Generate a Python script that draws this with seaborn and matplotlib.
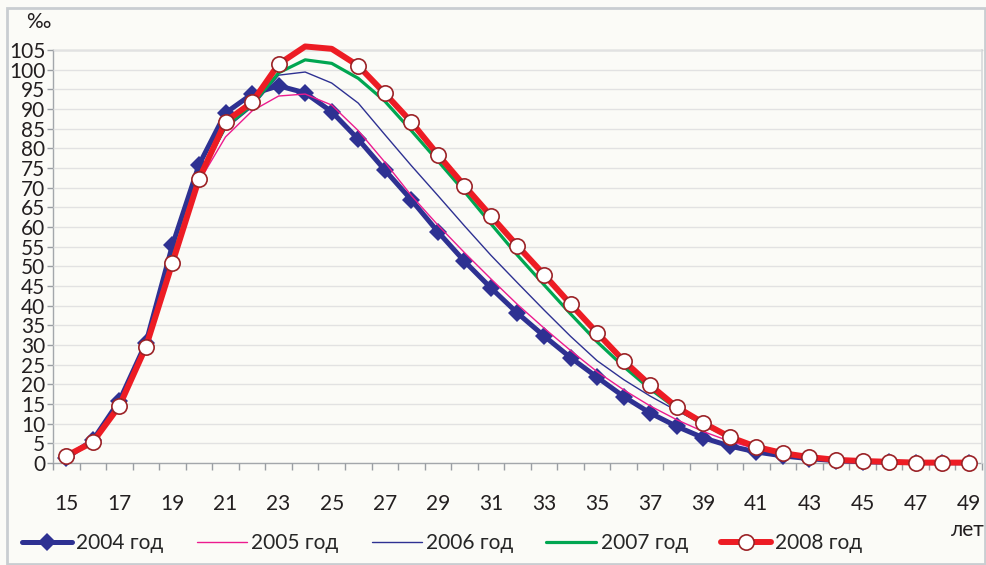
import numpy as np
import pandas as pd
import matplotlib
matplotlib.use("Agg")
import matplotlib.pyplot as plt
import seaborn as sns
from matplotlib.patches import Rectangle

# ages and fertility rates (per mille)
ages = list(range(15, 50))
y2004 = [1.3, 5.8, 15.8, 30.5, 55.4, 75.8, 89.0, 93.8, 95.9, 94.1, 89.3, 82.3, 74.5, 66.9, 58.8,
         51.3, 44.5, 38.1, 32.3, 26.8, 21.8, 16.9, 12.7, 9.3, 6.4, 4.3, 2.8, 1.8, 1.1, 0.6,
         0.3, 0.2, 0.1, 0.1, 0.05]
y2005 = [1.6, 5.5, 15.0, 29.5, 52.0, 71.5, 82.9, 89.5, 93.3, 93.8, 91.0, 84.5, 76.5, 68.0, 60.5,
         53.5, 46.8, 40.3, 34.3, 28.6, 23.2, 18.6, 14.5, 11.0, 8.0, 5.5, 3.6, 2.2, 1.3, 0.7,
         0.4, 0.2, 0.1, 0.1, 0.05]
y2006 = [1.6, 5.5, 15.0, 29.5, 52.5, 72.5, 85.0, 90.5, 98.6, 99.4, 96.6, 91.5, 83.5, 75.6, 68.0,
         60.3, 52.8, 45.8, 38.9, 32.2, 26.0, 21.2, 17.0, 13.3, 9.8, 6.8, 4.5, 2.9, 1.7, 1.0,
         0.6, 0.3, 0.2, 0.1, 0.1]
y2007 = [1.7, 5.5, 15.0, 29.5, 52.0, 73.0, 85.5, 91.0, 99.2, 102.5, 101.6, 97.8, 92.0, 84.5, 76.8,
         69.0, 60.8, 52.8, 45.3, 37.9, 30.8, 24.5, 18.8, 13.8, 9.8, 6.5, 4.1, 2.5, 1.4, 0.8,
         0.4, 0.2, 0.1, 0.1, 0.05]
y2008 = [1.8, 5.3, 14.5, 29.5, 50.9, 72.2, 86.8, 91.7, 101.4, 105.9, 105.3, 101.0, 94.0, 86.7, 78.4,
         70.5, 62.8, 55.2, 47.9, 40.4, 33.1, 26.0, 19.8, 14.2, 10.2, 6.6, 4.1, 2.5, 1.5, 0.8,
         0.5, 0.3, 0.1, 0.1, 0.1]
labels = ["2004 год", "2005 год", "2006 год", "2007 год", "2008 год"]
y_ticks = list(range(0, 106, 5))
x_labels = list(range(15, 50, 2))
y_max = 105

bg = "#fbfbf7"
fs = 15
sns.set_theme(style="white")
plt.rcParams["font.family"] = ["Lato", "DejaVu Sans"]

fig = plt.figure(figsize=(9.87, 5.65), dpi=100, facecolor=bg)
ax = fig.add_axes([53 / 987, 1 - 463 / 565, (982 - 53) / 987, (463 - 50) / 565])
ax.set_facecolor(bg)

styles = [
    dict(color="#2e3192", linewidth=3.6, marker="D", markersize=9, markeredgewidth=0),
    dict(color="#ec1b8f", linewidth=1.0),
    dict(color="#2e3192", linewidth=1.0),
    dict(color="#00a651", linewidth=2.3),
    dict(color="#ed1c24", linewidth=4.3, marker="o", markersize=11,
         markerfacecolor="white", markeredgecolor="#9b2226", markeredgewidth=1.2),
]
series = [y2004, y2005, y2006, y2007, y2008]
for vals, lab, st in zip(series, labels, styles):
    df = pd.DataFrame({"age": ages, "rate": vals})
    # markers above the axis maximum are not drawn (as in the original)
    keep = [i for i, v in enumerate(vals) if v <= y_max]
    sns.lineplot(data=df, x="age", y="rate", ax=ax, label=lab, clip_on=False,
                 markevery=keep, **st)

ax.set_xlim(ages[0] - 0.5, ages[-1] + 0.5)
ax.set_ylim(0, y_max)
ax.set_yticks(y_ticks)
ax.set_xticks(x_labels)
ax.set_xticks([a - 0.5 for a in ages] + [ages[-1] + 0.5], minor=True)
ax.tick_params(axis="x", which="major", length=0, pad=22, labelsize=fs, colors="#231f20")
ax.tick_params(axis="x", which="minor", length=5, width=1, color="#9a9ea3", direction="out", bottom=True)
ax.tick_params(axis="y", length=4, width=1, color="#9a9ea3", direction="out", left=True,
               pad=1.5, labelsize=fs, labelcolor="#231f20")
ax.grid(axis="y", color="#e2e2e2", linewidth=1)
ax.set_axisbelow(True)
ax.set_xlabel("")
ax.set_ylabel("")
for side in ["left", "bottom", "top"]:
    ax.spines[side].set_color("#a3a7ab")
    ax.spines[side].set_linewidth(1)
    ax.spines[side].set_zorder(0.5)
ax.spines["right"].set_color("#d8dadc")

fig.text(26 / 987, 1 - 22 / 565, "‰", fontsize=fs, color="#231f20", va="center", ha="left")
fig.text(968 / 987, 1 - 530 / 565, "лет", fontsize=fs, color="#231f20", va="center", ha="center")

ax.legend(loc="center left", bbox_to_anchor=(0.014, 1 - 543 / 565), bbox_transform=fig.transFigure,
          ncol=5, frameon=False, fontsize=fs, handlelength=2.4, handletextpad=0.2,
          columnspacing=1.6, borderaxespad=0)

fig.patches.append(Rectangle((7 / 987, 0.002), 978 / 987, 1 - 8 / 565 - 0.002, transform=fig.transFigure,
                             fill=False, edgecolor="#c9cdd1", linewidth=2))

fig.savefig("out.png", dpi=100, facecolor=bg)
